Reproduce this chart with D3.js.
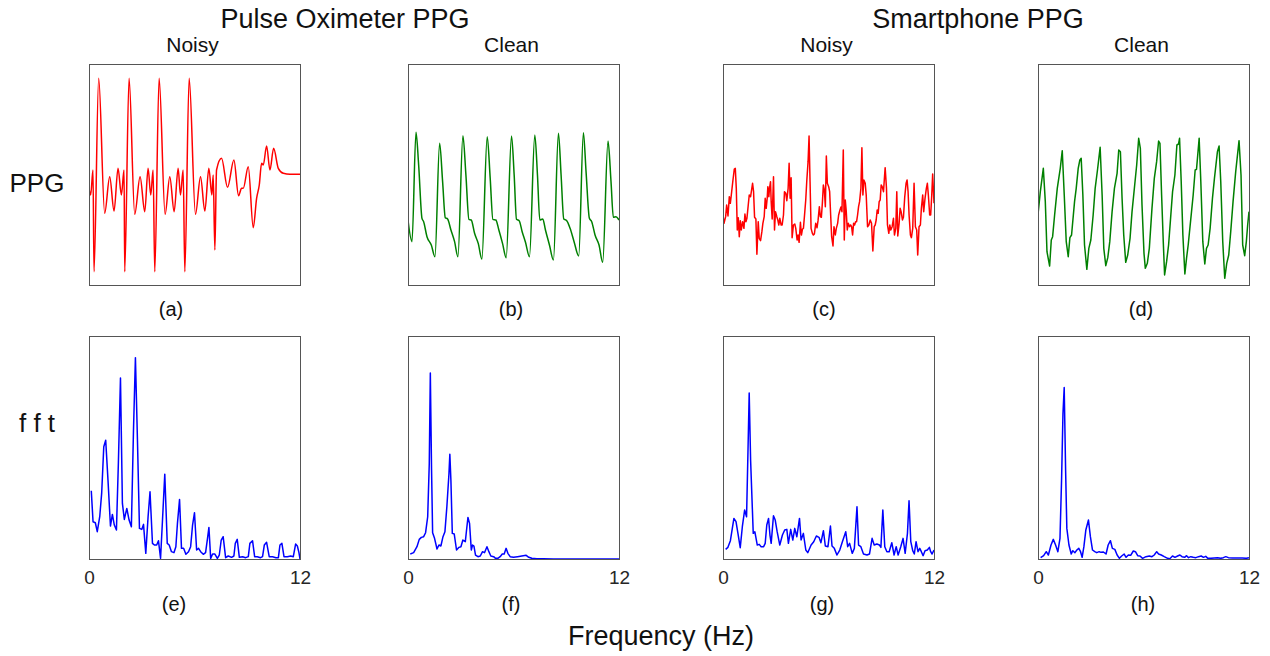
<!DOCTYPE html>
<html>
<head>
<meta charset="utf-8">
<script src="https://cdn.jsdelivr.net/npm/d3@7"></script>
<style>
  body { margin: 0; background: #fff; }
  svg { display: block; font-family: "Liberation Sans", Arial, sans-serif; }
</style>
</head>
<body>
<svg id="chart" width="1270" height="656"></svg>
<script>
// ---- data ----
// PPG traces: [sample, amplitude] (arbitrary units, window = 0..~635 samples, 0..663 amplitude)
const oxiNoisy = [[0,290],[5,270],[12,345],[15,40],[29,620],[47,215],[62,325],[75,222],[87,350],[97,270],[105,345],[107,40],
  [120,620],[137,212],[153,325],[167,220],[177,350],[185,270],[192,345],[197,40],[210,620],[228,212],[242,325],[255,220],
  [267,350],[274,270],[282,345],[287,40],[300,620],[319,212],[334,325],[347,222],[359,350],[368,270],[372,330],[377,105],
  [382,345],[397,380],[415,293],[434,375],[448,268],[457,290],[462,290],[477,355],[492,172],[502,260],[510,300],[517,365],
  [522,360],[532,417],[542,345],[553,410],[567,350],[582,335],[602,332],[632,332]];

const oxiClean = [[0,195],[12,130],[24,458],[32,360],[42,200],[47,190],[57,145],[70,120],[81,85],[95,425],[104,310],[112,202],
  [119,198],[129,165],[140,130],[150,85],[165,448],[174,330],[183,197],[190,195],[200,155],[211,125],[222,78],[238,445],
  [247,320],[255,197],[264,195],[273,165],[284,125],[295,82],[311,447],[319,330],[326,197],[334,193],[343,160],[353,128],
  [365,85],[381,450],[389,330],[396,195],[405,198],[413,165],[425,120],[437,75],[452,455],[460,330],[468,198],[477,193],
  [487,170],[499,130],[513,87],[527,457],[535,340],[545,200],[552,190],[562,150],[574,120],[585,68],[601,432],[610,310],
  [617,203],[625,205],[634,195]];

const phoneNoisy = [[0,210],[3,185],[8,205],[11,240],[15,207],[19,265],[22,245],[25,270],[30,315],[34,348],[37,350],[40,290],
  [43,165],[46,202],[49,145],[52,193],[55,165],[59,190],[63,170],[66,213],[69,190],[72,200],[76,240],[79,270],[83,265],
  [86,285],[89,305],[92,280],[95,203],[99,198],[102,92],[106,190],[109,140],[113,133],[117,160],[120,185],[124,205],
  [127,260],[130,230],[133,260],[135,295],[138,265],[140,290],[143,310],[145,250],[148,198],[152,325],[155,165],[158,220],
  [162,205],[165,195],[168,180],[171,200],[175,180],[178,180],[182,210],[185,280],[189,275],[192,253],[196,290],[199,365],
  [202,260],[205,322],[208,142],[212,180],[216,183],[219,170],[223,135],[226,150],[229,128],[233,188],[236,150],[239,167],
  [242,170],[245,205],[249,255],[252,310],[256,370],[259,447],[262,310],[265,170],[269,155],[272,150],[275,153],[279,185],
  [283,172],[286,193],[290,235],[293,205],[296,203],[299,245],[302,300],[305,285],[308,235],[311,387],[314,305],[318,295],
  [321,280],[324,210],[327,145],[331,117],[334,175],[338,150],[341,170],[345,185],[348,210],[352,225],[355,234],[358,220],
  [362,405],[365,135],[368,255],[371,220],[374,165],[377,185],[381,175],[384,180],[387,175],[390,150],[393,185],[396,180],
  [399,190],[402,190],[405,210],[408,235],[411,250],[415,290],[418,412],[421,270],[424,315],[428,305],[431,270],[435,175],
  [439,180],[443,195],[447,185],[451,102],[455,175],[458,180],[461,195],[464,225],[467,215],[470,250],[473,255],[476,300],
  [479,295],[483,280],[488,352],[492,290],[495,180],[499,155],[502,180],[505,165],[509,175],[513,200],[516,150],[520,170],
  [523,280],[526,147],[530,185],[533,230],[536,220],[540,195],[543,203],[547,265],[551,305],[554,315],[557,280],[560,210],
  [564,150],[567,142],[571,170],[575,305],[579,175],[583,165],[586,90],[590,175],[594,180],[597,230],[601,270],[604,220],
  [608,260],[612,290],[615,305],[618,270],[622,210],[625,210],[628,265],[631,333],[635,245]];

const phoneClean = [[0,212],[7,280],[16,350],[22,250],[27,100],[35,57],[40,135],[44,145],[50,210],[58,290],[67,350],[73,403],
  [79,270],[85,130],[91,85],[96,142],[101,150],[110,250],[115,290],[121,350],[126,375],[130,380],[135,270],[140,120],
  [147,47],[153,110],[159,135],[166,210],[172,290],[179,345],[187,413],[193,270],[198,110],[204,58],[210,82],[216,130],
  [223,220],[230,290],[238,335],[243,405],[248,400],[253,260],[258,150],[264,68],[270,90],[277,140],[283,220],[291,300],
  [297,360],[303,440],[308,410],[313,240],[319,95],[323,50],[329,65],[335,110],[343,230],[350,320],[357,370],[363,432],
  [367,425],[372,270],[377,130],[381,30],[387,70],[393,120],[399,200],[405,280],[412,330],[418,420],[423,423],[426,440],
  [431,310],[436,150],[442,33],[447,80],[452,120],[460,200],[467,270],[473,345],[477,347],[485,440],[490,310],[496,130],
  [502,63],[507,110],[512,120],[518,170],[525,260],[531,320],[540,400],[545,417],[550,310],[556,130],[562,20],[568,65],
  [574,90],[580,160],[587,250],[595,340],[605,433],[611,330],[616,120],[622,88],[627,130],[631,180],[635,220]];

// spectra: [frequency Hz, magnitude] (arbitrary units, 0..670)
const oxiNoisyFft = [[0.13,205],[0.23,112],[0.36,109],[0.47,82],[0.61,127],[0.72,197],[0.84,337],[0.95,357],[1.08,237],
  [1.22,99],[1.33,134],[1.44,102],[1.56,87],[1.67,287],[1.79,544],[1.90,167],[2.01,119],[2.15,152],[2.28,117],[2.41,97],
  [2.53,387],[2.64,605],[2.76,347],[2.87,92],[3.00,89],[3.10,104],[3.23,17],[3.36,127],[3.47,202],[3.61,47],[3.72,42],
  [3.85,42],[3.95,55],[4.07,2],[4.18,117],[4.31,255],[4.45,47],[4.56,42],[4.69,22],[4.83,19],[4.94,37],[5.03,107],
  [5.15,179],[5.26,32],[5.38,32],[5.51,14],[5.66,22],[5.78,37],[5.89,102],[6.00,139],[6.12,27],[6.23,32],[6.35,22],
  [6.50,14],[6.63,19],[6.74,62],[6.82,95],[6.92,2],[7.03,15],[7.16,15],[7.30,2],[7.41,12],[7.52,57],[7.63,67],[7.77,4],
  [7.92,9],[8.11,5],[8.24,9],[8.32,47],[8.43,59],[8.55,5],[8.74,7],[8.91,4],[9.06,7],[9.15,47],[9.30,55],[9.42,7],
  [9.57,7],[9.76,4],[9.87,7],[9.97,42],[10.10,50],[10.25,7],[10.44,7],[10.63,4],[10.77,4],[10.86,42],[10.97,47],
  [11.09,7],[11.28,7],[11.47,9],[11.62,7],[11.75,45],[11.85,39],[11.94,19],[12.0,0]];

const oxiCleanFft = [[0.13,15],[0.32,19],[0.51,37],[0.64,59],[0.76,65],[0.89,67],[1.00,79],[1.12,127],[1.21,287],[1.27,559],
  [1.34,267],[1.40,79],[1.51,62],[1.65,30],[1.76,42],[1.87,39],[1.99,67],[2.10,82],[2.21,157],[2.33,257],[2.38,315],
  [2.44,237],[2.52,77],[2.63,75],[2.76,27],[2.90,35],[3.01,37],[3.12,57],[3.26,52],[3.33,87],[3.41,125],[3.50,107],
  [3.60,27],[3.67,42],[3.75,39],[3.84,12],[3.98,7],[4.11,9],[4.24,22],[4.35,19],[4.49,37],[4.60,22],[4.71,9],[4.87,7],
  [4.98,2],[5.11,2],[5.24,7],[5.36,15],[5.47,15],[5.58,32],[5.68,17],[5.81,7],[6.00,5],[6.23,7],[6.47,9],[6.72,11],
  [6.87,5],[7.04,2],[7.33,1],[7.70,1],[8.27,0],[9.03,0],[10.16,0],[11.30,0],[12,0]];

const phoneNoisyFft = [[0.15,29],[0.28,35],[0.42,55],[0.53,92],[0.62,122],[0.74,112],[0.85,77],[0.98,34],[1.10,97],[1.23,147],
  [1.34,127],[1.42,322],[1.49,499],[1.57,297],[1.72,77],[1.81,82],[1.95,42],[2.06,44],[2.17,37],[2.31,37],[2.40,47],
  [2.49,102],[2.59,122],[2.67,72],[2.74,47],[2.87,130],[2.97,117],[3.08,82],[3.23,42],[3.38,72],[3.51,87],[3.63,89],
  [3.72,47],[3.85,89],[3.97,57],[4.08,92],[4.20,67],[4.35,122],[4.44,57],[4.57,77],[4.71,27],[4.82,19],[5.01,42],
  [5.16,52],[5.31,69],[5.46,65],[5.57,49],[5.71,85],[5.82,39],[5.97,37],[6.11,99],[6.20,39],[6.33,32],[6.48,12],
  [6.64,27],[6.79,52],[6.98,82],[7.09,37],[7.20,47],[7.35,17],[7.47,32],[7.62,157],[7.71,42],[7.84,37],[7.99,15],
  [8.19,12],[8.33,15],[8.48,62],[8.60,42],[8.75,45],[8.90,42],[8.98,35],[9.09,147],[9.20,37],[9.32,22],[9.45,22],
  [9.60,49],[9.73,12],[9.85,37],[9.96,12],[10.11,37],[10.24,62],[10.36,17],[10.49,77],[10.58,175],[10.68,52],[10.79,25],
  [10.88,15],[10.98,52],[11.09,22],[11.19,32],[11.28,22],[11.38,10],[11.49,25],[11.62,27],[11.74,35],[11.81,22],
  [11.89,15],[12.0,27]];

const phoneCleanFft = [[0.15,4],[0.32,10],[0.47,22],[0.59,12],[0.74,42],[0.87,59],[1.00,42],[1.13,22],[1.25,62],[1.34,237],
  [1.42,437],[1.49,515],[1.57,267],[1.64,92],[1.76,42],[1.89,15],[1.98,25],[2.10,19],[2.21,27],[2.32,32],[2.42,22],
  [2.51,5],[2.61,37],[2.72,87],[2.87,117],[2.98,67],[3.10,27],[3.23,22],[3.34,19],[3.48,22],[3.59,20],[3.72,21],
  [3.87,15],[3.99,42],[4.12,55],[4.23,32],[4.37,29],[4.50,12],[4.63,2],[4.76,9],[4.90,15],[5.01,5],[5.14,12],[5.27,11],
  [5.42,24],[5.54,22],[5.67,10],[5.80,9],[5.95,2],[6.14,7],[6.33,9],[6.48,7],[6.61,12],[6.75,22],[6.86,15],[7.01,12],
  [7.18,7],[7.37,2],[7.50,1],[7.65,9],[7.79,5],[7.94,9],[8.07,12],[8.19,7],[8.34,5],[8.45,10],[8.56,4],[8.69,7],
  [8.83,5],[8.98,4],[9.13,7],[9.28,9],[9.41,5],[9.54,8],[9.66,2],[9.83,2],[10.02,3],[10.21,4],[10.39,2],[10.54,4],
  [10.68,7],[10.83,4],[11.06,3],[11.34,3],[11.62,3],[11.85,2],[12.0,4]];

// labels
const groupTitles = ['Pulse Oximeter PPG', 'Smartphone PPG'];
const columnTitles = ['Noisy', 'Clean', 'Noisy', 'Clean'];
const rowTitles = ['PPG', 'f f t'];
const panelLetters = ['(a)', '(b)', '(c)', '(d)', '(e)', '(f)', '(g)', '(h)'];
const freqTicks = [0, 12];
const freqLabel = 'Frequency (Hz)';

// ---- layout ----
const svg = d3.select('#chart');
const colLeft = [89, 408, 723, 1038];
const panelW = 211;
const rowTop = [64, 336];
const rowH = [221, 223];
const textColor = '#111';

// panel definitions built from the arrays above
const panels = [
  { row: 0, col: 0, data: oxiNoisy, color: '#ff0000', x: [0, 632], y: [0, 663], curve: d3.curveMonotoneX },
  { row: 0, col: 1, data: oxiClean, color: '#008000', x: [0, 634], y: [0, 663], curve: d3.curveMonotoneX },
  { row: 0, col: 2, data: phoneNoisy, color: '#ff0000', x: [0, 635], y: [0, 663], curve: d3.curveLinear },
  { row: 0, col: 3, data: phoneClean, color: '#008000', x: [0, 635], y: [0, 663], curve: d3.curveLinear },
  { row: 1, col: 0, data: oxiNoisyFft, color: '#0000ff', x: [0, 12], y: [0, 670], curve: d3.curveLinear, freq: true },
  { row: 1, col: 1, data: oxiCleanFft, color: '#0000ff', x: [0, 12], y: [0, 670], curve: d3.curveLinear, freq: true },
  { row: 1, col: 2, data: phoneNoisyFft, color: '#0000ff', x: [0, 12], y: [0, 670], curve: d3.curveLinear, freq: true },
  { row: 1, col: 3, data: phoneCleanFft, color: '#0000ff', x: [0, 12], y: [0, 670], curve: d3.curveLinear, freq: true }
];

// letter label centres (they sit a little left of the box centre in the original)
const letterX = [171, 511, 824, 1141, 174, 511, 822, 1143];

panels.forEach((p, i) => {
  const left = colLeft[p.col];
  const top = rowTop[p.row];
  const h = rowH[p.row];

  const x = d3.scaleLinear().domain(p.x).range([0, panelW]);
  const y = d3.scaleLinear().domain(p.y).range([h, 0]);

  const g = svg.append('g').attr('transform', `translate(${left},${top})`);

  g.append('clipPath')
    .attr('id', 'clip' + i)
    .append('rect')
    .attr('width', panelW)
    .attr('height', h);

  // trace
  g.append('path')
    .datum(p.data)
    .attr('clip-path', `url(#clip${i})`)
    .attr('fill', 'none')
    .attr('stroke', p.color)
    .attr('stroke-width', 1.5)
    .attr('stroke-linejoin', 'round')
    .attr('d', d3.line().x((d) => x(d[0])).y((d) => y(d[1])).curve(p.curve));

  // box
  g.append('rect')
    .attr('x', 0.5)
    .attr('y', 0.5)
    .attr('width', panelW)
    .attr('height', h)
    .attr('fill', 'none')
    .attr('stroke', '#555')
    .attr('stroke-width', 1);

  // frequency ticks (only 0 and 12, no tick marks)
  if (p.freq) {
    const axis = g.append('g')
      .attr('transform', `translate(0,${h})`)
      .call(d3.axisBottom(x).tickValues(freqTicks).tickSize(0).tickPadding(12));
    axis.select('.domain').remove();
    axis.selectAll('text')
      .attr('font-family', '"Liberation Sans", Arial, sans-serif')
      .attr('font-size', 19)
      .attr('fill', '#262626');
  }

  // sub-figure letter
  svg.append('text')
    .attr('x', letterX[i])
    .attr('y', p.row === 0 ? 316 : 611)
    .attr('text-anchor', 'middle')
    .attr('font-size', 20)
    .attr('fill', textColor)
    .text(panelLetters[i]);
});

// column titles
columnTitles.forEach((t, c) => {
  svg.append('text')
    .attr('x', colLeft[c] + panelW / 2 - 2)
    .attr('y', 52)
    .attr('text-anchor', 'middle')
    .attr('font-size', 21)
    .attr('fill', textColor)
    .text(t);
});

// group titles
const groupX = [345, 978];
groupTitles.forEach((t, k) => {
  svg.append('text')
    .attr('x', groupX[k])
    .attr('y', 28)
    .attr('text-anchor', 'middle')
    .attr('font-size', 27)
    .attr('fill', textColor)
    .text(t);
});

// row titles
const rowY = [192, 432];
rowTitles.forEach((t, r) => {
  svg.append('text')
    .attr('x', 37)
    .attr('y', rowY[r])
    .attr('text-anchor', 'middle')
    .attr('font-size', 26)
    .attr('fill', textColor)
    .text(t);
});

// shared x label
svg.append('text')
  .attr('x', 661)
  .attr('y', 645)
  .attr('text-anchor', 'middle')
  .attr('font-size', 27)
  .attr('fill', textColor)
  .text(freqLabel);
</script>
</body>
</html>
